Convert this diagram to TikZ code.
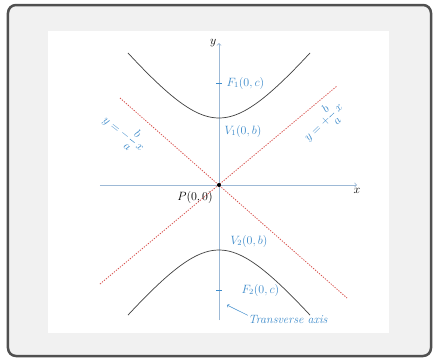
\documentclass[tikz,border=0pt]{standalone}
\usepackage{amsmath,amssymb}
\usepackage{tikz}
\usetikzlibrary{arrows,positioning}
\definecolor{lblblue}{HTML}{3D8BCB}
\definecolor{axisblue}{HTML}{9DB9D6}
\definecolor{asymred}{HTML}{D9534F}
\definecolor{framegray}{HTML}{505050}
\definecolor{panelgray}{HTML}{F1F1F1}

\begin{document}
\begin{tikzpicture}[x=1pt,y=1pt,
  lbl/.style={text=lblblue,font=\fontsize{12}{14}\selectfont},
  asym/.style={asymred,dash pattern=on 1.3pt off 1.3pt,line width=0.8pt},
  branch/.style={black!75,line width=0.7pt},
  axisline/.style={axisblue,line width=0.8pt}]
\useasboundingbox (-219,-172) rectangle (214,185);
\draw[framegray,line width=2.5pt,fill=panelgray,rounded corners=8pt] (-211,180) rectangle (212,-171);
\fill[white] (-171,154) rectangle (170,-148);
% axes
\draw[axisline,->] (-119,0) -- (138,0) node[below=0pt,black,font=\large] (xl) {$x$};
\draw[axisline,->] (0,-135) -- (0,142) node[left=-1pt,black,font=\large] (yl) {$y$};
% asymptotes
\draw[asym] (-99,87) -- (128,-113);
\draw[asym] (-119,-99) -- (118,99);
% branches
\draw[branch] plot[domain=-91:91,samples=60] (\x,{67*sqrt(1+(\x/53.6)^2)});
\draw[branch] plot[domain=-91:91,samples=60] (\x,{-65*sqrt(1+(\x/52.5)^2)});
% foci ticks
\draw[axisline,lblblue] (-3,102) -- (3,102);
\draw[axisline,lblblue] (-3,-105) -- (3,-105);
\fill (0,0) circle (2pt);
% labels
\node[lbl,right] (f1) at (4,102) {$F_1(0,c)$};
\node[lbl,right] (v1) at (2,54) {$V_1(0,b)$};
\node[lbl,right] (v2) at (8,-56) {$V_2(0,b)$};
\node[lbl,right] (f2) at (19,-105) {$F_2(0,c)$};
\node[font=\fontsize{12}{14}\selectfont] (p) at (-24,-12) {$P(0,0)$};
\node[lbl,rotate=-38,inner sep=0pt] (am) at (-95,52) {$y=-\dfrac{b}{a}\,x$};
\node[lbl,rotate=44,inner sep=0pt] (ap) at (104,63) {$y=+\dfrac{b}{a}\,x$};
\node[lbl] (ta) at (69,-134) {\textit{Transverse axis}};
\coordinate (tip) at (8,-120);
\draw[lblblue,->,line width=0.5pt] (ta.north west) ++(3,-4) -- (tip);
\end{tikzpicture}
\end{document}
